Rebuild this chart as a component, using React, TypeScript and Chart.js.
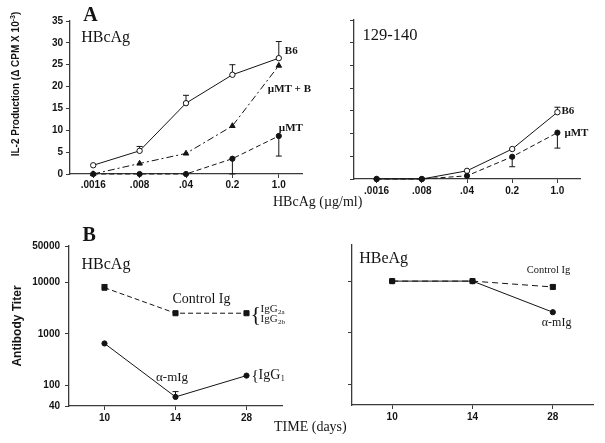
import React, { useEffect, useRef } from 'react';
import { Chart, registerables } from 'chart.js';

Chart.register(...registerables);

// ---------- data ----------
const doseLabels = ['.0016', '.008', '.04', '0.2', '1.0'];
const il2TickValues = [0, 5, 10, 15, 20, 25, 30, 35];

const hbcB6 = [2, 5.3, 16.2, 22.7, 26.5];
const hbcB6ErrUp: (number | null)[] = [null, 6.3, 18, 25, 30.3];
const hbcMtB = [0, 2.4, 4.7, 11, 24.8];
const hbcMt = [0, 0, 0, 3.5, 8.7];
const hbcMtErrDown: (number | null)[] = [null, null, null, 0, 4.1];

const pepB6 = [0, 0, 1.8, 6.6, 14.7];
const pepB6ErrUp: (number | null)[] = [null, null, null, null, 15.8];
const pepMt = [0, 0, 0.7, 4.9, 10.2];
const pepMtErrDown: (number | null)[] = [null, null, null, 2.7, 6.8];

const dayLabels = ['10', '14', '28'];
const titerTicks = [40, 100, 1000, 10000, 50000];
const titerTicksRight = [100, 1000, 10000];

const hbcCtrl = [7800, 2500, 2500];
const hbcCtrlErrUp: (number | null)[] = [9000, null, null];
const hbcAmig = [650, 60, 155];
const hbcAmigErrUp: (number | null)[] = [null, 76, null];

const hbeCtrl = [10000, 10000, 7700];
const hbeCtrlErrUp: (number | null)[] = [null, null, 8300];
const hbeAmig = [10000, 10000, 2500];

// ---------- styling ----------
const INK = '#141414';
const AXIS = '#3a3a3a';
const SANS = '"Liberation Sans", Arial, Helvetica, sans-serif';
const SERIF = '"Liberation Serif", "Times New Roman", Times, serif';

type Txt = { t: string; xi: number; yv: number; dx: number; dy: number; font: string; sub?: string; subFont?: string };
type Err = { xi: number; from: number; to: number };

function errList(vals: number[], ends: (number | null)[]): Err[] {
  const out: Err[] = [];
  ends.forEach((e, i) => {
    if (e !== null) out.push({ xi: i, from: vals[i], to: e });
  });
  return out;
}

function overlayPlugin(texts: Txt[], errs: Err[]) {
  return {
    id: 'overlay',
    beforeDatasetsDraw(chart: any) {
      const ctx = chart.ctx;
      const xs = chart.scales.x;
      const ys = chart.scales.y;
      ctx.save();
      ctx.strokeStyle = INK;
      ctx.lineWidth = 1;
      errs.forEach((e) => {
        const x = xs.getPixelForValue(e.xi);
        const y1 = ys.getPixelForValue(e.from);
        const y2 = ys.getPixelForValue(e.to);
        ctx.beginPath();
        ctx.moveTo(x, y1);
        ctx.lineTo(x, y2);
        ctx.moveTo(x - 3, y2);
        ctx.lineTo(x + 3, y2);
        ctx.stroke();
      });
      ctx.restore();
    },
    afterDraw(chart: any) {
      const ctx = chart.ctx;
      const xs = chart.scales.x;
      const ys = chart.scales.y;
      ctx.save();
      ctx.fillStyle = INK;
      ctx.textAlign = 'left';
      ctx.textBaseline = 'alphabetic';
      texts.forEach((t) => {
        const x = xs.getPixelForValue(t.xi) + t.dx;
        const y = ys.getPixelForValue(t.yv) + t.dy;
        ctx.font = t.font;
        ctx.fillText(t.t, x, y);
        if (t.sub) {
          const w = ctx.measureText(t.t).width;
          ctx.font = t.subFont || t.font;
          ctx.fillText(t.sub, x + w + 0.5, y + 2);
        }
      });
      ctx.restore();
    },
  };
}

type Mark = 'open' | 'dot' | 'tri' | 'square';

function series(label: string, data: number[], mark: Mark, dash: number[]) {
  const base: any = {
    label,
    data,
    borderColor: INK,
    borderWidth: 1,
    borderDash: dash,
    tension: 0,
    fill: false,
    clip: false,
    pointBorderColor: INK,
    pointBorderWidth: 1,
    pointHoverRadius: 0,
  };
  if (mark === 'open') return { ...base, pointStyle: 'circle', pointRadius: 2.7, pointBackgroundColor: '#fff' };
  if (mark === 'dot') return { ...base, pointStyle: 'circle', pointRadius: 2.6, pointBackgroundColor: INK };
  if (mark === 'tri') return { ...base, pointStyle: 'triangle', pointRadius: 3.2, pointBackgroundColor: INK };
  return { ...base, pointStyle: 'rect', pointRadius: 3.6, pointBackgroundColor: INK };
}

const gridOpts = { display: true, drawOnChartArea: false, drawTicks: true, tickLength: 4, tickWidth: 1, color: AXIS, offset: false };
const borderOpts = { display: true, color: AXIS, width: 1.3 };
const tickFont = { family: SANS, size: 10, weight: 'bold' };

function catAxis(height: number, pad: number) {
  return {
    type: 'category',
    offset: true,
    grid: gridOpts,
    border: borderOpts,
    ticks: { color: INK, font: tickFont, padding: pad, maxRotation: 0, autoSkip: false },
    afterFit: (s: any) => {
      s.height = height;
    },
  };
}

function valAxis(kind: string, min: number, max: number, tickVals: number[], showLabels: boolean, width: number, pad: number) {
  return {
    type: kind,
    min,
    max,
    bounds: 'data',
    afterBuildTicks: (s: any) => {
      s.ticks = tickVals.map((v) => ({ value: v }));
    },
    grid: gridOpts,
    border: borderOpts,
    ticks: {
      color: INK,
      font: tickFont,
      padding: pad,
      autoSkip: false,
      callback: (v: any) => (showLabels ? String(v) : ''),
    },
    afterFit: (s: any) => {
      s.width = width;
    },
  };
}

type Spec = {
  labels: string[];
  datasets: any[];
  x: any;
  y: any;
  padding: { top: number; right: number; bottom: number; left: number };
  texts: Txt[];
  errs: Err[];
};

function build(canvas: HTMLCanvasElement, spec: Spec) {
  return new Chart(canvas, {
    type: 'line',
    data: { labels: spec.labels, datasets: spec.datasets },
    options: {
      animation: false,
      responsive: false,
      devicePixelRatio: 1,
      events: [],
      layout: { padding: spec.padding, autoPadding: false } as any,
      plugins: { legend: { display: false }, tooltip: { enabled: false } },
      scales: { x: spec.x, y: spec.y } as any,
    },
    plugins: [overlayPlugin(spec.texts, spec.errs) as any],
  } as any);
}

const bold11 = `bold 11px ${SERIF}`;

const specs: { left: number; top: number; width: number; height: number; spec: Spec }[] = [
  {
    left: 0,
    top: 0,
    width: 320,
    height: 215,
    spec: {
      labels: doseLabels,
      datasets: [
        series('µMT', hbcMt, 'dot', [5, 3]),
        series('µMT + B', hbcMtB, 'tri', [7, 3, 2, 3]),
        series('B6', hbcB6, 'open', []),
      ],
      x: catAxis(41, 1),
      y: valAxis('linear', 0, 35, il2TickValues, true, 70, 3),
      padding: { top: 21, right: 18, bottom: 0, left: 0 },
      texts: [
        { t: 'A', xi: 0, yv: 35, dx: -10, dy: 0, font: `bold 20px ${SERIF}` },
        { t: 'HBcAg', xi: 0, yv: 35, dx: -12, dy: 21, font: `16px ${SERIF}` },
        { t: 'B6', xi: 4, yv: 26.5, dx: 6, dy: -4.5, font: bold11 },
        { t: 'µMT + B', xi: 4, yv: 24.8, dx: -11, dy: 26, font: bold11 },
        { t: 'µMT', xi: 4, yv: 8.7, dx: 0, dy: -5, font: bold11 },
      ],
      errs: [...errList(hbcB6, hbcB6ErrUp), ...errList(hbcMt, hbcMtErrDown)],
    },
  },
  {
    left: 300,
    top: 0,
    width: 305,
    height: 215,
    spec: {
      labels: doseLabels,
      datasets: [series('µMT', pepMt, 'dot', [5, 3]), series('B6', pepB6, 'open', [])],
      x: catAxis(36, 2.5),
      y: valAxis('linear', 0, 35, il2TickValues, false, 54, 3),
      padding: { top: 20, right: 25, bottom: 0, left: 0 },
      texts: [
        { t: '129-140', xi: 0, yv: 35, dx: -14, dy: 19.5, font: `16.5px ${SERIF}` },
        { t: 'B6', xi: 4, yv: 14.7, dx: 4, dy: 2, font: bold11 },
        { t: 'µMT', xi: 4, yv: 10.2, dx: 7, dy: 3, font: bold11 },
      ],
      errs: [...errList(pepB6, pepB6ErrUp), ...errList(pepMt, pepMtErrDown)],
    },
  },
  {
    left: 0,
    top: 215,
    width: 300,
    height: 228,
    spec: {
      labels: dayLabels,
      datasets: [series('Control Ig', hbcCtrl, 'square', [5, 3]), series('α-mIg', hbcAmig, 'dot', [])],
      x: catAxis(37, 2),
      y: valAxis('logarithmic', 40, 50000, titerTicks, true, 69, 5),
      padding: { top: 31, right: 18, bottom: 0, left: 0 },
      texts: [
        { t: 'B', xi: 0, yv: 50000, dx: -22, dy: -5.5, font: `bold 20px ${SERIF}` },
        { t: 'HBcAg', xi: 0, yv: 50000, dx: -23, dy: 22.5, font: `16px ${SERIF}` },
        { t: 'Control Ig', xi: 1, yv: 2500, dx: -3, dy: -10, font: `14px ${SERIF}` },
        { t: 'α-mIg', xi: 1, yv: 60, dx: -19.5, dy: -16, font: `13px ${SERIF}` },
        { t: '{', xi: 2, yv: 2500, dx: 4, dy: 8, font: `22px ${SERIF}` },
        { t: 'IgG', xi: 2, yv: 2500, dx: 14, dy: -1, font: `11px ${SERIF}`, sub: '2a', subFont: `7px ${SERIF}` },
        { t: 'IgG', xi: 2, yv: 2500, dx: 14, dy: 9, font: `11px ${SERIF}`, sub: '2b', subFont: `7px ${SERIF}` },
        { t: '{', xi: 2, yv: 155, dx: 5, dy: 4, font: `15px ${SERIF}` },
        { t: 'IgG', xi: 2, yv: 155, dx: 12, dy: 3, font: `14px ${SERIF}`, sub: '1', subFont: `8px ${SERIF}` },
      ],
      errs: [...errList(hbcCtrl, hbcCtrlErrUp), ...errList(hbcAmig, hbcAmigErrUp)],
    },
  },
  {
    left: 300,
    top: 215,
    width: 305,
    height: 228,
    spec: {
      labels: dayLabels,
      datasets: [series('Control Ig', hbeCtrl, 'square', [6, 4]), series('α-mIg', hbeAmig, 'dot', [])],
      x: catAxis(38, 2),
      y: valAxis('logarithmic', 40, 50000, titerTicksRight, false, 52, 5),
      padding: { top: 30, right: 12, bottom: 0, left: 0 },
      texts: [
        { t: 'HBeAg', xi: 0, yv: 50000, dx: -33, dy: 18, font: `16px ${SERIF}` },
        { t: 'Control Ig', xi: 2, yv: 7700, dx: -26, dy: -14, font: `10.5px ${SERIF}` },
        { t: 'α-mIg', xi: 2, yv: 2500, dx: -11, dy: 14, font: `12px ${SERIF}` },
      ],
      errs: [...errList(hbeCtrl, hbeCtrlErrUp)],
    },
  },
];

function ChartBox(props: { left: number; top: number; width: number; height: number; spec: Spec }) {
  const ref = useRef<HTMLCanvasElement>(null);
  useEffect(() => {
    const c = build(ref.current as HTMLCanvasElement, props.spec);
    return () => c.destroy();
  }, []);
  return (
    <canvas
      ref={ref}
      width={props.width}
      height={props.height}
      style={{ position: 'absolute', left: props.left, top: props.top, width: props.width, height: props.height }}
    />
  );
}

export default function App() {
  const rot = (cx: number, cy: number, size: number): React.CSSProperties => ({
    position: 'absolute',
    left: cx,
    top: cy,
    transform: 'translate(-50%, -50%) rotate(-90deg)',
    whiteSpace: 'nowrap',
    fontFamily: SANS,
    fontWeight: 'bold',
    fontSize: size,
    color: INK,
    lineHeight: 1,
  });
  const xt = (left: number, top: number): React.CSSProperties => ({
    position: 'absolute',
    left,
    top,
    whiteSpace: 'nowrap',
    fontFamily: SERIF,
    fontSize: 14,
    lineHeight: '14px',
    color: INK,
  });
  return (
    <div style={{ position: 'absolute', left: 0, top: 0, width: 605, height: 443, background: '#fff', overflow: 'hidden' }}>
      {specs.map((s, i) => (
        <ChartBox key={i} {...s} />
      ))}
      <div style={rot(16, 84, 10)}>
        IL-2 Production (Δ CPM X 10<sup style={{ fontSize: 7, verticalAlign: 'super', lineHeight: 0 }}>-3</sup>)
      </div>
      <div style={rot(16.5, 326, 12)}>Antibody Titer</div>
      <div style={xt(273, 194.5)}>HBcAg (µg/ml)</div>
      <div style={xt(274, 420)}>TIME (days)</div>
    </div>
  );
}
